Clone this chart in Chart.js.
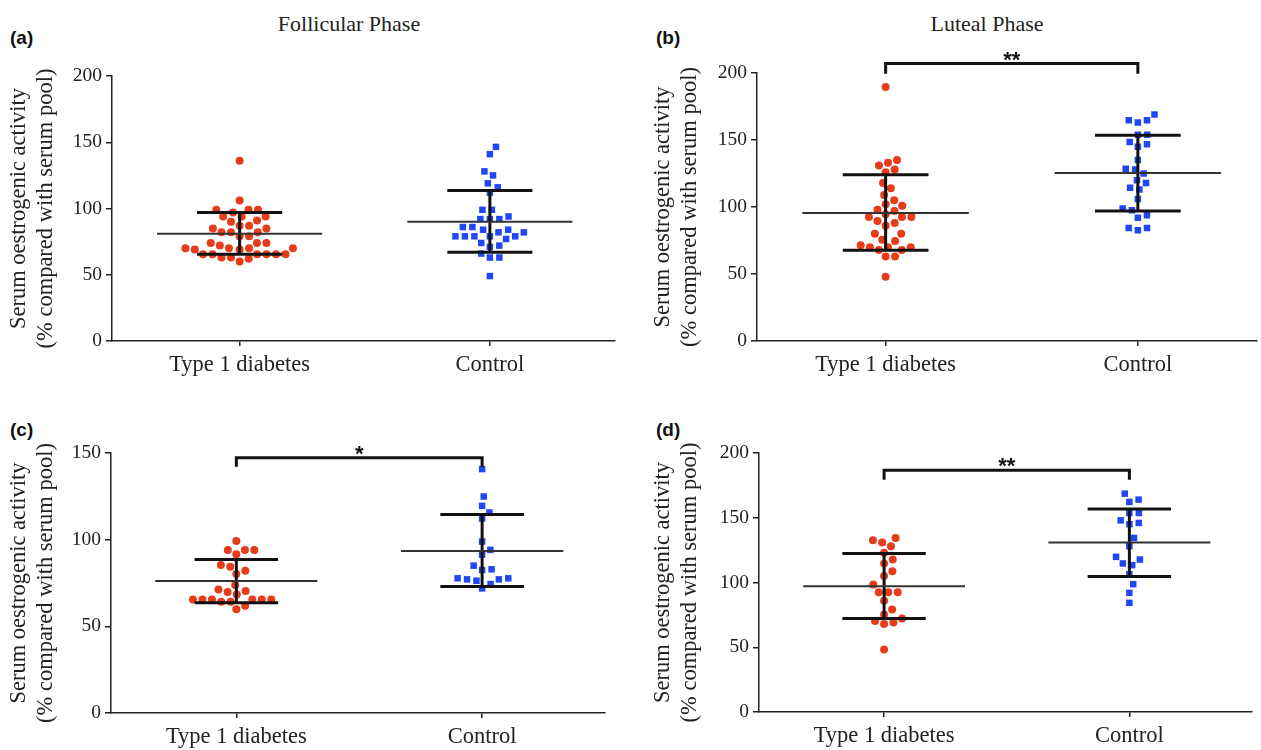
<!DOCTYPE html>
<html lang="en">
<head>
<meta charset="UTF-8">
<title>Serum oestrogenic activity</title>
<script src="https://cdn.jsdelivr.net/npm/chart.js"></script>
<style>
  body { margin: 0; background: #fff; }
  #wrap { position: relative; width: 1261px; height: 750px; overflow: hidden; font-family: "Liberation Serif", serif; }
  canvas { position: absolute; }
  .letter { position: absolute; font-family: "Liberation Sans", Arial, sans-serif; font-weight: bold; font-size: 19px; line-height: 1; color: #111; }
  .phase { position: absolute; font-size: 22px; line-height: 1; color: #222; transform: translateX(-50%); white-space: nowrap; }
</style>
</head>
<body>
<div id="wrap">
  <div class="phase" style="left:349px; top:13px;">Follicular Phase</div>
  <div class="phase" style="left:987px; top:13px;">Luteal Phase</div>
  <div class="letter" style="left:10px; top:28px;">(a)</div>
  <div class="letter" style="left:656px; top:28px;">(b)</div>
  <div class="letter" style="left:10px; top:420px;">(c)</div>
  <div class="letter" style="left:656px; top:420px;">(d)</div>
  <canvas id="chartA" width="630" height="380" style="left:0; top:0;"></canvas>
  <canvas id="chartB" width="631" height="380" style="left:630px; top:0;"></canvas>
  <canvas id="chartC" width="630" height="370" style="left:0; top:380px;"></canvas>
  <canvas id="chartD" width="631" height="370" style="left:630px; top:380px;"></canvas>
</div>

<script>
  // categories and axis text
  const categories = ['Type 1 diabetes', 'Control'];
  const yTitle = ['Serum oestrogenic activity', '(% compared with serum pool)'];

  // (a) follicular phase
  const aT1D = [136, 106, 99, 97, 99, 99, 94, 94, 94, 91, 90, 87, 87, 85, 85, 82, 82, 82, 79, 79,
                74, 74, 74, 72, 70, 70, 70, 70, 69, 69, 65.5, 65.5, 65.5, 65.5, 65.5, 65.5, 63, 63, 62, 60];
  const aCtrl = [146.5, 141, 128, 125, 119, 116, 112, 99, 99, 94, 92, 92, 92, 86, 86, 84, 84, 82, 82,
                 79, 79, 79, 79, 79, 77, 74, 72, 71, 66, 63, 63, 49];
  const aMean = [81, 90];
  const aSdLo = [65.5, 67];
  const aSdHi = [97, 113.5];

  // (b) luteal phase
  const bT1D = [189.5, 135, 133, 131, 128, 126, 118, 114, 109, 105, 102, 101, 98, 97, 94.5, 92.5, 92.5, 92.5,
                89.5, 88, 86, 80, 80, 75.6, 74.6, 71.4, 70, 70, 70, 68, 68, 63, 63, 48];
  const bCtrl = [169, 164.7, 164.7, 163, 154, 154, 148.5, 146.8, 145, 135, 128.6, 128, 125, 120, 118,
                 114.4, 113, 106, 98.8, 97.5, 93.8, 92, 84.3, 84.3, 82.6];
  const bMean = [95.5, 125.4];
  const bSdLo = [67.7, 97];
  const bSdHi = [124, 153.5];

  // (c)
  const cT1D = [99.3, 94, 94, 94, 91.6, 85.4, 84.4, 82, 80.2, 73.8, 71.3, 70.4, 69.8, 68.4,
                65.5, 65.5, 65.5, 65.5, 65.5, 65.5, 64.2, 64.2, 61.9, 59.8];
  const cCtrl = [140.7, 124.9, 119.5, 115.7, 112.2, 98.9, 94.1, 91.4, 85, 82.5, 82.9, 77.7, 77.7,
                 77.1, 77.1, 76.3, 74.4, 71.9];
  const cMean = [76.2, 93.5];
  const cSdLo = [63.6, 73];
  const cSdHi = [88.5, 114.5];

  // (d)
  const dT1D = [134.4, 132.6, 130.8, 128, 122.9, 117.7, 114.7, 108.7, 105.1, 98.5, 92.5, 92.5, 92.5,
                85.9, 79.2, 75.3, 72.2, 70.2, 69.2, 67.9, 48.3];
  const dCtrl = [168.6, 164, 162.2, 153.7, 153.7, 148, 146, 145, 134.4, 128, 119.8, 117.7, 114.7,
                 113.4, 106.4, 98.7, 92, 84.3];
  const dMean = [97.2, 130.8];
  const dSdLo = [72.2, 104.6];
  const dSdHi = [122.4, 156.8];

  // significance brackets: [top, end of legs], label
  const sigB = [207, 199.5], sigLabelB = '**';
  const sigC = [147.3, 142], sigLabelC = '*';
  const sigD = [186.6, 179.4], sigLabelD = '**';

  const RED = '#e63c1a';
  const BLUE = '#2147f2';
  const INK = '#222';

  // beeswarm: push each point sideways until it clears the ones already placed
  function swarm(vals, center, pxPerX, pxPerY) {
    const D = 9.5;
    const placed = [];
    const out = new Array(vals.length);
    vals.map((v, i) => ({ v, i })).sort((a, b) => a.v - b.v).forEach(p => {
      const y = p.v * pxPerY;
      const near = placed.filter(q => Math.abs(q.y - y) < D);
      const cands = [0];
      near.forEach(q => {
        const dx = Math.sqrt(D * D - (q.y - y) * (q.y - y));
        cands.push(q.x + dx, q.x - dx);
      });
      cands.sort((a, b) => Math.abs(a) - Math.abs(b) || b - a);
      const x = cands.find(cx => near.every(q => Math.hypot(q.x - cx, q.y - y) >= D - 0.01));
      placed.push({ x, y });
      out[p.i] = { x: center + x / pxPerX, y: p.v };
    });
    return out;
  }

  function lineSet(data, width, color) {
    return { type: 'line', data, showLine: true, spanGaps: false, borderColor: color, borderWidth: width,
             pointRadius: 0, pointHoverRadius: 0, fill: false, order: 1, clip: false };
  }

  function sdSegments(c, lo, hi) {
    const w = 0.17;
    return [{ x: c - w, y: hi }, { x: c + w, y: hi }, { x: c, y: null },
            { x: c, y: hi }, { x: c, y: lo }, { x: c, y: null },
            { x: c - w, y: lo }, { x: c + w, y: lo }];
  }

  const sigPlugin = {
    id: 'sigText',
    afterDatasetsDraw(chart) {
      const s = chart.options.plugins.sigText;
      if (!s || !s.label) return;
      const { ctx, scales } = chart;
      ctx.save();
      ctx.fillStyle = '#111';
      ctx.font = 'bold 22px "Liberation Sans", Arial, sans-serif';
      ctx.textAlign = 'center';
      ctx.textBaseline = 'alphabetic';
      ctx.fillText(s.label, scales.x.getPixelForValue(1.5), scales.y.getPixelForValue(s.y) + 3);
      ctx.restore();
    }
  };

  function makePanel(id, p) {
    const plotW = p.width - p.left - p.right;
    const plotH = p.height - p.top - p.bottom;
    const pxPerX = plotW / (p.xMax - 0.49);
    const pxPerY = plotH / p.yMax;

    const datasets = [
      { data: swarm(p.t1d, 1, pxPerX, pxPerY), pointStyle: 'circle', pointRadius: 4,
        backgroundColor: RED, borderColor: RED, borderWidth: 0, order: 2 },
      { data: swarm(p.ctrl, 2, pxPerX, pxPerY), pointStyle: 'rect', pointRadius: 4.6,
        backgroundColor: BLUE, borderColor: BLUE, borderWidth: 0, order: 2 }
    ];
    [1, 2].forEach((c, i) => {
      datasets.push(lineSet([{ x: c - 0.33, y: p.mean[i] }, { x: c + 0.33, y: p.mean[i] }], 2, '#333'));
      datasets.push(lineSet(sdSegments(c, p.sdLo[i], p.sdHi[i]), 3, '#111'));
    });
    if (p.sig) {
      datasets.push(lineSet([{ x: 1, y: p.sig[1] }, { x: 1, y: p.sig[0] },
                             { x: 2, y: p.sig[0] }, { x: 2, y: p.sig[1] }], 3, '#111'));
    }

    new Chart(document.getElementById(id), {
      type: 'scatter',
      data: { datasets },
      plugins: [sigPlugin],
      options: {
        responsive: false,
        animation: false,
        layout: { padding: { top: p.top, right: p.right, left: 0, bottom: 0 } },
        plugins: {
          legend: { display: false },
          tooltip: { enabled: false },
          sigText: { label: p.sigLabel, y: p.sig ? p.sig[0] : 0 }
        },
        scales: {
          x: {
            type: 'linear', min: 0.49, max: p.xMax,
            afterBuildTicks: s => { s.ticks = [{ value: 1 }, { value: 2 }]; },
            afterFit: s => { s.height = p.bottom; },
            ticks: { color: INK, padding: 6, font: { family: '"Liberation Serif", serif', size: 22.5 },
                     callback: v => categories[v - 1] },
            grid: { drawOnChartArea: false, drawTicks: true, tickLength: 5, color: INK, lineWidth: 1.5 },
            border: { display: true, color: INK, width: 1.5 }
          },
          y: {
            min: 0, max: p.yMax,
            afterFit: s => { s.width = p.left; },
            ticks: { stepSize: 50, color: INK, padding: 4, font: { family: '"Liberation Serif", serif', size: 19.5 } },
            grid: { drawOnChartArea: false, drawTicks: true, tickLength: 6, color: INK, lineWidth: 1.5 },
            border: { display: true, color: INK, width: 1.5 },
            title: { display: true, text: yTitle, color: INK, padding: { top: p.titlePad, bottom: 0 },
                     font: { family: '"Liberation Serif", serif', size: 22.5, lineHeight: 1.2 } }
          }
        }
      }
    });
  }

  makePanel('chartA', { width: 630, height: 380, left: 112, right: 15, top: 76, bottom: 39, xMax: 2.5, yMax: 200,
    titlePad: 6, t1d: aT1D, ctrl: aCtrl, mean: aMean, sdLo: aSdLo, sdHi: aSdHi });
  makePanel('chartB', { width: 631, height: 380, left: 127, right: 0, top: 73, bottom: 39, xMax: 2.47, yMax: 200,
    titlePad: 20, t1d: bT1D, ctrl: bCtrl, mean: bMean, sdLo: bSdLo, sdHi: bSdHi, sig: sigB, sigLabel: sigLabelB });
  makePanel('chartC', { width: 630, height: 370, left: 111, right: 25, top: 73, bottom: 37, xMax: 2.5, yMax: 150,
    titlePad: 6, t1d: cT1D, ctrl: cCtrl, mean: cMean, sdLo: cSdLo, sdHi: cSdHi, sig: sigC, sigLabel: sigLabelC });
  makePanel('chartD', { width: 631, height: 370, left: 129, right: 9, top: 73, bottom: 38, xMax: 2.5, yMax: 200,
    titlePad: 20, t1d: dT1D, ctrl: dCtrl, mean: dMean, sdLo: dSdLo, sdHi: dSdHi, sig: sigD, sigLabel: sigLabelD });
</script>
</body>
</html>
